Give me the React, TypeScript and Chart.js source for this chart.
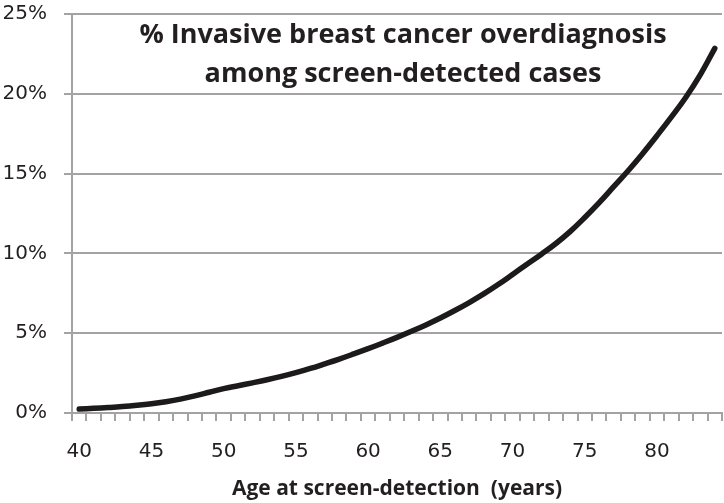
import React, { useEffect, useRef } from "react";
import { Chart, registerables } from "chart.js";

Chart.register(...registerables);

// Categories: age at screen-detection (years)
const ages = [
  40, 41, 42, 43, 44, 45, 46, 47, 48, 49,
  50, 51, 52, 53, 54, 55, 56, 57, 58, 59,
  60, 61, 62, 63, 64, 65, 66, 67, 68, 69,
  70, 71, 72, 73, 74, 75, 76, 77, 78, 79,
  80, 81, 82, 83, 84,
];

// % invasive breast cancer overdiagnosis among screen-detected cases
const overdiagnosisPct = [
  0.25, 0.29, 0.34, 0.40, 0.48, 0.58, 0.71, 0.87, 1.07, 1.30,
  1.53, 1.71, 1.89, 2.08, 2.29, 2.53, 2.79, 3.08, 3.38, 3.70,
  4.03, 4.38, 4.74, 5.12, 5.52, 5.95, 6.42, 6.92, 7.46, 8.05,
  8.68, 9.32, 9.95, 10.62, 11.38, 12.25, 13.18, 14.18, 15.18, 16.25,
  17.38, 18.55, 19.78, 21.2, 22.85,
];

// Labelled x ticks
const labeledAges = [40, 45, 50, 55, 60, 65, 70, 75, 80];

// Y ticks
const yTicks = [0, 5, 10, 15, 20, 25];

const titleLines = [
  "% Invasive breast cancer overdiagnosis",
  "among screen-detected cases",
];
const xAxisTitle = "Age at screen-detection  (years)";

const GRID = "#a3a3a3";
const TEXT = "#231f20";

export default function App() {
  const canvasRef = useRef<HTMLCanvasElement | null>(null);

  useEffect(() => {
    const canvas = canvasRef.current;
    if (!canvas) return;

    const insideTitle = {
      id: "insideTitle",
      afterDraw(chart: any) {
        const { ctx } = chart;
        ctx.save();
        ctx.fillStyle = TEXT;
        ctx.font = "bold 27px 'Open Sans'";
        ctx.textAlign = "center";
        ctx.textBaseline = "alphabetic";
        ctx.fillText(titleLines[0], 403, 42.5);
        ctx.fillText(titleLines[1], 403, 82);
        ctx.restore();
      },
    };

    const chart = new Chart(canvas, {
      type: "line",
      data: {
        labels: ages.map(String),
        datasets: [
          {
            data: overdiagnosisPct,
            borderColor: "#1c1a1b",
            borderWidth: 5.5,
            borderCapStyle: "round",
            borderJoinStyle: "round",
            pointRadius: 0,
            tension: 0.4,
            fill: false,
          },
        ],
      },
      options: {
        responsive: false,
        animation: false,
        layout: { padding: { top: 14, right: 2, bottom: 0, left: 0 } },
        plugins: {
          legend: { display: false },
          title: { display: false },
          tooltip: { enabled: false },
        },
        scales: {
          x: {
            type: "category",
            offset: true,
            grid: {
              offset: true,
              drawOnChartArea: false,
              drawTicks: true,
              tickLength: 8,
              color: GRID,
              lineWidth: 2,
            },
            border: { display: true, color: GRID, width: 2 },
            ticks: {
              autoSkip: false,
              maxRotation: 0,
              minRotation: 0,
              padding: 19,
              color: TEXT,
              font: { family: "DejaVu Sans", size: 20 },
              callback: (_v: any, i: number) =>
                labeledAges.includes(ages[i]) ? String(ages[i]) : "",
            },
            title: {
              display: true,
              text: xAxisTitle,
              color: TEXT,
              font: { family: "Open Sans", size: 21, weight: "bold" },
              padding: { top: 0, bottom: 1 },
            },
            afterFit: (s: any) => {
              s.height = 90;
              s.paddingLeft = 0;
              s.paddingRight = 0;
            },
          },
          y: {
            min: yTicks[0],
            max: yTicks[yTicks.length - 1],
            grid: {
              color: GRID,
              lineWidth: 2,
              tickLength: 8,
              drawTicks: true,
            },
            border: { display: true, color: GRID, width: 2 },
            afterBuildTicks: (s: any) => {
              s.ticks = yTicks.map((v) => ({ value: v }));
            },
            ticks: {
              padding: 17,
              color: TEXT,
              font: { family: "DejaVu Sans", size: 20 },
              callback: (v: any) => `${v}%`,
            },
            afterFit: (s: any) => {
              s.width = 72;
              s.paddingTop = 0;
              s.paddingBottom = 0;
            },
          },
        },
      },
      plugins: [insideTitle],
    });

    return () => chart.destroy();
  }, []);

  return (
    <div style={{ position: "absolute", left: 0, top: 0, width: 724, height: 503, background: "#fff" }}>
      <canvas ref={canvasRef} width={724} height={503} style={{ display: "block" }} />
    </div>
  );
}
